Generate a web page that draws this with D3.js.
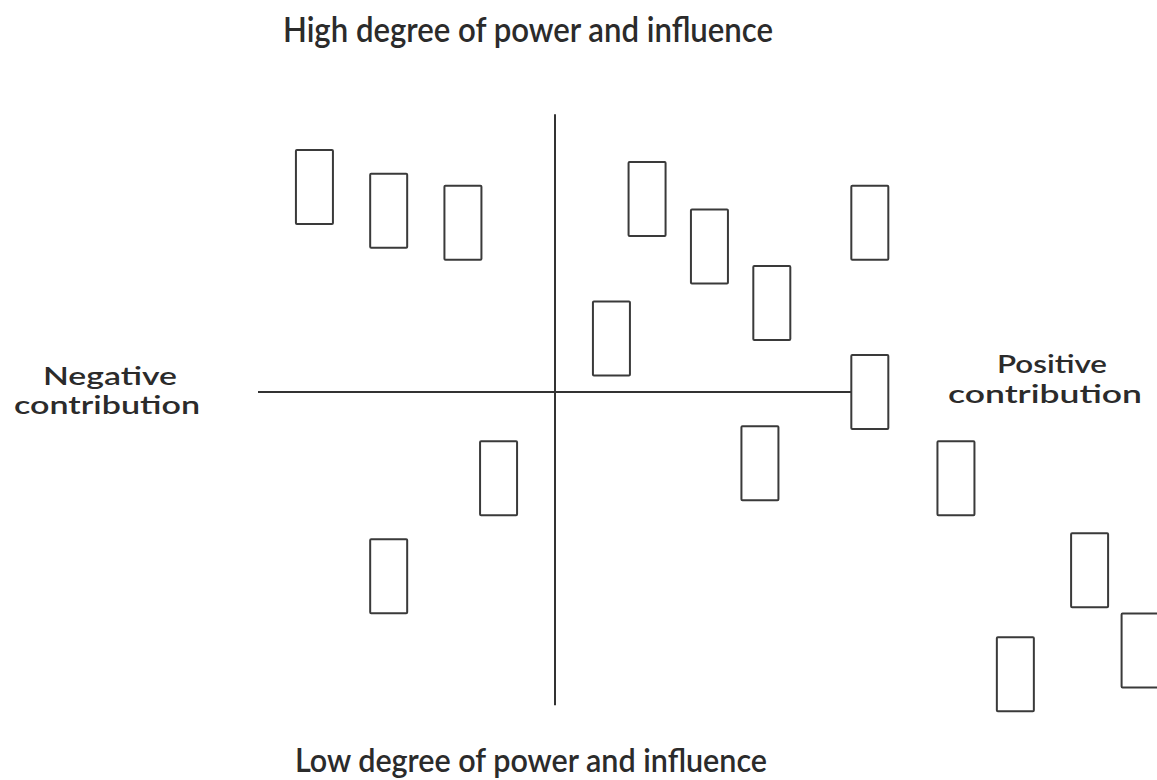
<!DOCTYPE html>
<html>
<head>
<meta charset="utf-8">
<script src="https://cdn.jsdelivr.net/npm/d3@7"></script>
<style>
  body { margin: 0; background: #fff; }
  text { font-family: Lato, "Open Sans", sans-serif; font-weight: 600; fill: #2b2b2b; }
</style>
</head>
<body>
<div id="chart"></div>
<script>
// stakeholder positions: contribution (x) vs power and influence (y)
const contribution = [-8.1, -5.6, -3.1, 3.1, 5.2, 7.3, 10.6, 1.9, 10.6, 6.9, 13.5, 18.0, 19.7, 15.5, -1.9, -5.6];
const influence    = [6.9, 6.1, 5.7, 6.5, 4.9, 3.0, 5.7, 1.8, 0.0, -2.4, -2.9, -6.0, -8.7, -9.5, -2.9, -6.2];

const topLabel = "High degree of power and influence";
const bottomLabel = "Low degree of power and influence";
const leftLabel = ["Negative", "contribution"];
const rightLabel = ["Positive", "contribution"];

const width = 1157;
const height = 780;
const boxW = 37, boxH = 74;

const svg = d3.select("#chart")
  .append("svg")
  .attr("width", width)
  .attr("height", height);

const x = d3.scaleLinear().domain([-10, 10]).range([258, 852]);
const y = d3.scaleLinear().domain([0, 10]).range([392, 95]);

// axes
svg.append("line")
  .attr("x1", x(-10)).attr("x2", x(10))
  .attr("y1", y(0)).attr("y2", y(0))
  .attr("stroke", "#333").attr("stroke-width", 2);

svg.append("line")
  .attr("x1", x(0)).attr("x2", x(0))
  .attr("y1", y(9.35)).attr("y2", y(-10.55))
  .attr("stroke", "#333").attr("stroke-width", 2);

// boxes
const data = contribution.map((c, i) => ({ c, v: influence[i] }));

svg.selectAll("rect.box")
  .data(data)
  .enter()
  .append("rect")
  .attr("class", "box")
  .attr("x", (d) => x(d.c) - boxW / 2)
  .attr("y", (d) => y(d.v) - boxH / 2)
  .attr("width", boxW)
  .attr("height", boxH)
  .attr("rx", 1)
  .attr("fill", "#fff")
  .attr("stroke", "#3a3a3a")
  .attr("stroke-width", 2);

// labels
function label(str, cx, baseline, size, len) {
  svg.append("text")
    .attr("x", cx)
    .attr("y", baseline)
    .attr("text-anchor", "middle")
    .style("font-size", size + "px")
    .attr("textLength", len)
    .attr("lengthAdjust", "spacingAndGlyphs")
    .text(str);
}

label(topLabel, 528, 42, 35, 490);
label(bottomLabel, 531, 772, 33, 472);
label(leftLabel[0], 110, 385, 25, 134);
label(leftLabel[1], 107, 414, 25, 186);
label(rightLabel[0], 1052, 373, 25, 110);
label(rightLabel[1], 1045, 403, 25, 194);
</script>
</body>
</html>
